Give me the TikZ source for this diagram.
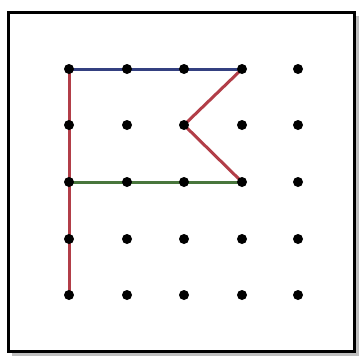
\documentclass[tikz,border=0pt]{standalone}
\definecolor{bandblue}{RGB}{52,64,128}
\definecolor{bandred}{RGB}{178,62,72}
\definecolor{bandgreen}{RGB}{72,118,60}
\begin{document}
\begin{tikzpicture}[x=1pt,y=-1pt,
  peg/.style={circle,fill=black,inner sep=0pt,minimum size=10pt},
  band/.style={line width=3pt,line cap=round,line join=round},
  frame/.style={line width=3pt,draw=black}]
\useasboundingbox (0,0) rectangle (362,356);
\fill[white] (0,0) rectangle (362,356);
\draw[line width=3pt,draw=black!25] (357,16) -- (357,354) -- (12,354);
\draw[frame] (8,12) rectangle (354,351);
% grid points
\foreach \i/\x in {1/69,2/127,3/184,4/242,5/298}{
  \foreach \j/\y in {1/69,2/125,3/182,4/239,5/295}{
    \coordinate (p\i\j) at (\x,\y);
  }
}
% bands
\draw[band,bandblue] (p11) -- (p41);
\draw[band,bandred] (p11) -- (p15);
\draw[band,bandred] (p41) -- (p32) -- (p43);
\draw[band,bandgreen] (p13) -- (p43);
% pegs
\foreach \i in {1,...,5}{
  \foreach \j in {1,...,5}{
    \node[peg] (n\i\j) at (p\i\j) {};
  }
}
\end{tikzpicture}
\end{document}
